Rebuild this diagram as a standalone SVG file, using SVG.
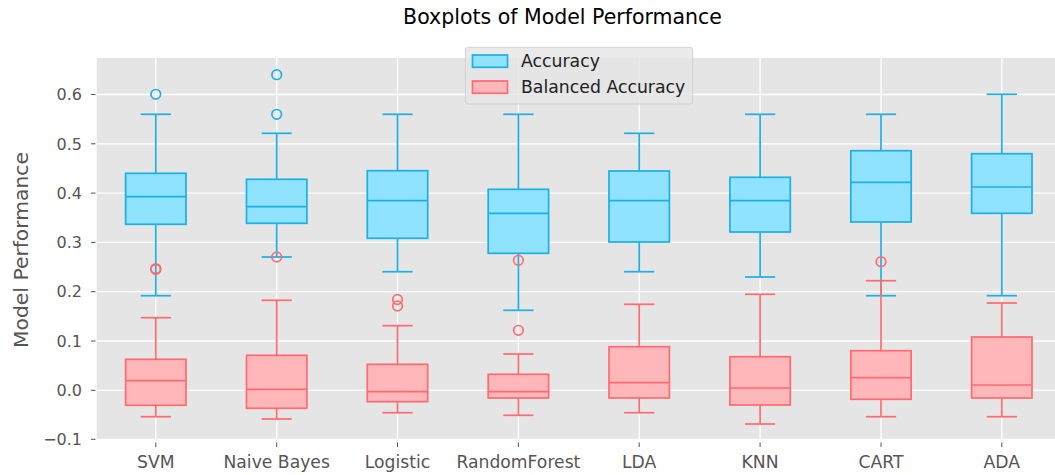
<svg xmlns="http://www.w3.org/2000/svg" width="1055" height="475" viewBox="0 0 1055 475">
<style>
text{font-family:"DejaVu Sans","Liberation Sans",sans-serif}
.tick{font-size:16px;fill:#555555}
.xt{font-size:17.2px;fill:#555555}
.tm{stroke:#555555;stroke-width:1}
.grid{stroke:#ffffff;stroke-width:1.3}
.ab{fill:#8fe3ff;stroke:#1cb0e4;stroke-width:1.7}
.al{stroke:#1cb0e4;stroke-width:1.7;fill:none}
.bb{fill:#ffb7ba;stroke:#ff6b70;stroke-width:1.7}
.bl{stroke:#ff6b70;stroke-width:1.7;fill:none}
</style>
<rect width="1055" height="475" fill="#ffffff"/>
<text x="562.5" y="24" font-size="20.5" text-anchor="middle" fill="#000000">Boxplots of Model Performance</text>
<rect x="96.7" y="58" width="958.3" height="382" fill="#e5e5e5"/>
<g id="grid">
<line class="grid" x1="96.7" x2="1055" y1="94.5" y2="94.5"/>
<line class="grid" x1="96.7" x2="1055" y1="143.8" y2="143.8"/>
<line class="grid" x1="96.7" x2="1055" y1="193.1" y2="193.1"/>
<line class="grid" x1="96.7" x2="1055" y1="242.4" y2="242.4"/>
<line class="grid" x1="96.7" x2="1055" y1="291.7" y2="291.7"/>
<line class="grid" x1="96.7" x2="1055" y1="341" y2="341"/>
<line class="grid" x1="96.7" x2="1055" y1="390.3" y2="390.3"/>
<line class="grid" x1="96.7" x2="1055" y1="439.3" y2="439.3"/>
<line class="grid" x1="155.8" x2="155.8" y1="58" y2="440"/>
<line class="grid" x1="276.7" x2="276.7" y1="58" y2="440"/>
<line class="grid" x1="397.5" x2="397.5" y1="58" y2="440"/>
<line class="grid" x1="518.4" x2="518.4" y1="58" y2="440"/>
<line class="grid" x1="639.2" x2="639.2" y1="58" y2="440"/>
<line class="grid" x1="760.1" x2="760.1" y1="58" y2="440"/>
<line class="grid" x1="881" x2="881" y1="58" y2="440"/>
<line class="grid" x1="1001.8" x2="1001.8" y1="58" y2="440"/>
</g>
<g id="axes">
<line class="tm" x1="91" x2="95.5" y1="94.5" y2="94.5"/>
<line class="tm" x1="91" x2="95.5" y1="143.8" y2="143.8"/>
<line class="tm" x1="91" x2="95.5" y1="193.1" y2="193.1"/>
<line class="tm" x1="91" x2="95.5" y1="242.4" y2="242.4"/>
<line class="tm" x1="91" x2="95.5" y1="291.7" y2="291.7"/>
<line class="tm" x1="91" x2="95.5" y1="341" y2="341"/>
<line class="tm" x1="91" x2="95.5" y1="390.3" y2="390.3"/>
<line class="tm" x1="91" x2="95.5" y1="439.3" y2="439.3"/>
<text class="tick" x="82" y="100.2" text-anchor="end">0.6</text>
<text class="tick" x="82" y="149.5" text-anchor="end">0.5</text>
<text class="tick" x="82" y="198.8" text-anchor="end">0.4</text>
<text class="tick" x="82" y="248.1" text-anchor="end">0.3</text>
<text class="tick" x="82" y="297.4" text-anchor="end">0.2</text>
<text class="tick" x="82" y="346.7" text-anchor="end">0.1</text>
<text class="tick" x="82" y="396" text-anchor="end">0.0</text>
<text class="tick" x="82" y="445" text-anchor="end">−0.1</text>
<line class="tm" x1="155.8" x2="155.8" y1="442.5" y2="447"/>
<line class="tm" x1="276.7" x2="276.7" y1="442.5" y2="447"/>
<line class="tm" x1="397.5" x2="397.5" y1="442.5" y2="447"/>
<line class="tm" x1="518.4" x2="518.4" y1="442.5" y2="447"/>
<line class="tm" x1="639.2" x2="639.2" y1="442.5" y2="447"/>
<line class="tm" x1="760.1" x2="760.1" y1="442.5" y2="447"/>
<line class="tm" x1="881" x2="881" y1="442.5" y2="447"/>
<line class="tm" x1="1001.8" x2="1001.8" y1="442.5" y2="447"/>
<text class="xt" x="155.8" y="467.5" text-anchor="middle">SVM</text>
<text class="xt" x="276.7" y="467.5" text-anchor="middle">Naive Bayes</text>
<text class="xt" x="397.5" y="467.5" text-anchor="middle">Logistic</text>
<text class="xt" x="518.4" y="467.5" text-anchor="middle">RandomForest</text>
<text class="xt" x="639.2" y="467.5" text-anchor="middle">LDA</text>
<text class="xt" x="760.1" y="467.5" text-anchor="middle">KNN</text>
<text class="xt" x="881" y="467.5" text-anchor="middle">CART</text>
<text class="xt" x="1001.8" y="467.5" text-anchor="middle">ADA</text>
<text x="28" y="250" font-size="20.3" fill="#555555" text-anchor="middle" transform="rotate(-90 28 250)">Model Performance</text>
</g>
<g id="svm">
<line class="al" x1="155.8" x2="155.8" y1="173.3" y2="114.3"/><line class="al" x1="140.7" x2="170.9" y1="114.3" y2="114.3"/>
<line class="al" x1="155.8" x2="155.8" y1="224.3" y2="295.7"/><line class="al" x1="140.7" x2="170.9" y1="295.7" y2="295.7"/>
<rect class="ab" x="125.6" y="173.3" width="60.4" height="51"/><line class="al" x1="125.6" x2="186" y1="196.7" y2="196.7"/>
<circle class="al" cx="155.8" cy="94.3" r="4.8"/>
<line class="bl" x1="155.8" x2="155.8" y1="359.3" y2="317.7"/><line class="bl" x1="140.7" x2="170.9" y1="317.7" y2="317.7"/>
<line class="bl" x1="155.8" x2="155.8" y1="405.3" y2="416.7"/><line class="bl" x1="140.7" x2="170.9" y1="416.7" y2="416.7"/>
<rect class="bb" x="125.6" y="359.3" width="60.4" height="46"/><line class="bl" x1="125.6" x2="186" y1="380.7" y2="380.7"/>
<circle class="bl" cx="155.8" cy="268.6" r="4.8"/><circle class="bl" cx="155.8" cy="269.4" r="4.8"/>
</g>
<g id="naive-bayes">
<line class="al" x1="276.7" x2="276.7" y1="179.3" y2="133.3"/><line class="al" x1="261.6" x2="291.8" y1="133.3" y2="133.3"/>
<line class="al" x1="276.7" x2="276.7" y1="223.3" y2="257"/><line class="al" x1="261.6" x2="291.8" y1="257" y2="257"/>
<rect class="ab" x="246.5" y="179.3" width="60.4" height="44"/><line class="al" x1="246.5" x2="306.9" y1="206.7" y2="206.7"/>
<circle class="al" cx="276.7" cy="74.7" r="4.8"/><circle class="al" cx="276.7" cy="114.3" r="4.8"/>
<line class="bl" x1="276.7" x2="276.7" y1="355.3" y2="300.3"/><line class="bl" x1="261.6" x2="291.8" y1="300.3" y2="300.3"/>
<line class="bl" x1="276.7" x2="276.7" y1="408.3" y2="419"/><line class="bl" x1="261.6" x2="291.8" y1="419" y2="419"/>
<rect class="bb" x="246.5" y="355.3" width="60.4" height="53"/><line class="bl" x1="246.5" x2="306.9" y1="389.3" y2="389.3"/>
<circle class="bl" cx="276.7" cy="257" r="4.8"/>
</g>
<g id="logistic">
<line class="al" x1="397.5" x2="397.5" y1="170.7" y2="114.3"/><line class="al" x1="382.4" x2="412.6" y1="114.3" y2="114.3"/>
<line class="al" x1="397.5" x2="397.5" y1="238.3" y2="271.7"/><line class="al" x1="382.4" x2="412.6" y1="271.7" y2="271.7"/>
<rect class="ab" x="367.3" y="170.7" width="60.4" height="67.6"/><line class="al" x1="367.3" x2="427.7" y1="200.7" y2="200.7"/>
<line class="bl" x1="397.5" x2="397.5" y1="364.3" y2="325.7"/><line class="bl" x1="382.4" x2="412.6" y1="325.7" y2="325.7"/>
<line class="bl" x1="397.5" x2="397.5" y1="401.7" y2="412.7"/><line class="bl" x1="382.4" x2="412.6" y1="412.7" y2="412.7"/>
<rect class="bb" x="367.3" y="364.3" width="60.4" height="37.4"/><line class="bl" x1="367.3" x2="427.7" y1="391.7" y2="391.7"/>
<circle class="bl" cx="397.5" cy="299.5" r="4.8"/><circle class="bl" cx="397.5" cy="306" r="4.8"/>
</g>
<g id="randomforest">
<line class="al" x1="518.4" x2="518.4" y1="189.3" y2="114.3"/><line class="al" x1="503.3" x2="533.5" y1="114.3" y2="114.3"/>
<line class="al" x1="518.4" x2="518.4" y1="253.3" y2="310.3"/><line class="al" x1="503.3" x2="533.5" y1="310.3" y2="310.3"/>
<rect class="ab" x="488.2" y="189.3" width="60.4" height="64"/><line class="al" x1="488.2" x2="548.6" y1="213.3" y2="213.3"/>
<line class="bl" x1="518.4" x2="518.4" y1="374.3" y2="354"/><line class="bl" x1="503.3" x2="533.5" y1="354" y2="354"/>
<line class="bl" x1="518.4" x2="518.4" y1="398" y2="415.3"/><line class="bl" x1="503.3" x2="533.5" y1="415.3" y2="415.3"/>
<rect class="bb" x="488.2" y="374.3" width="60.4" height="23.7"/><line class="bl" x1="488.2" x2="548.6" y1="391.7" y2="391.7"/>
<circle class="bl" cx="518.4" cy="260.3" r="4.8"/><circle class="bl" cx="518.4" cy="330.3" r="4.8"/>
</g>
<g id="lda">
<line class="al" x1="639.2" x2="639.2" y1="171" y2="133.3"/><line class="al" x1="624.1" x2="654.3" y1="133.3" y2="133.3"/>
<line class="al" x1="639.2" x2="639.2" y1="242" y2="271.7"/><line class="al" x1="624.1" x2="654.3" y1="271.7" y2="271.7"/>
<rect class="ab" x="609" y="171" width="60.4" height="71"/><line class="al" x1="609" x2="669.4" y1="200.7" y2="200.7"/>
<line class="bl" x1="639.2" x2="639.2" y1="346.7" y2="304.3"/><line class="bl" x1="624.1" x2="654.3" y1="304.3" y2="304.3"/>
<line class="bl" x1="639.2" x2="639.2" y1="398" y2="412.7"/><line class="bl" x1="624.1" x2="654.3" y1="412.7" y2="412.7"/>
<rect class="bb" x="609" y="346.7" width="60.4" height="51.3"/><line class="bl" x1="609" x2="669.4" y1="382.7" y2="382.7"/>
</g>
<g id="knn">
<line class="al" x1="760.1" x2="760.1" y1="177.3" y2="114.3"/><line class="al" x1="745" x2="775.2" y1="114.3" y2="114.3"/>
<line class="al" x1="760.1" x2="760.1" y1="232" y2="277"/><line class="al" x1="745" x2="775.2" y1="277" y2="277"/>
<rect class="ab" x="729.9" y="177.3" width="60.4" height="54.7"/><line class="al" x1="729.9" x2="790.3" y1="200.7" y2="200.7"/>
<line class="bl" x1="760.1" x2="760.1" y1="356.7" y2="294.3"/><line class="bl" x1="745" x2="775.2" y1="294.3" y2="294.3"/>
<line class="bl" x1="760.1" x2="760.1" y1="405" y2="424"/><line class="bl" x1="745" x2="775.2" y1="424" y2="424"/>
<rect class="bb" x="729.9" y="356.7" width="60.4" height="48.3"/><line class="bl" x1="729.9" x2="790.3" y1="388" y2="388"/>
</g>
<g id="cart">
<line class="al" x1="881" x2="881" y1="150.7" y2="114.3"/><line class="al" x1="865.9" x2="896.1" y1="114.3" y2="114.3"/>
<line class="al" x1="881" x2="881" y1="222" y2="295.7"/><line class="al" x1="865.9" x2="896.1" y1="295.7" y2="295.7"/>
<rect class="ab" x="850.8" y="150.7" width="60.4" height="71.3"/><line class="al" x1="850.8" x2="911.2" y1="182.3" y2="182.3"/>
<line class="bl" x1="881" x2="881" y1="350.7" y2="280.7"/><line class="bl" x1="865.9" x2="896.1" y1="280.7" y2="280.7"/>
<line class="bl" x1="881" x2="881" y1="399.3" y2="416.7"/><line class="bl" x1="865.9" x2="896.1" y1="416.7" y2="416.7"/>
<rect class="bb" x="850.8" y="350.7" width="60.4" height="48.6"/><line class="bl" x1="850.8" x2="911.2" y1="377.7" y2="377.7"/>
<circle class="bl" cx="881" cy="261.7" r="4.8"/>
</g>
<g id="ada">
<line class="al" x1="1001.8" x2="1001.8" y1="153.7" y2="94.3"/><line class="al" x1="986.7" x2="1016.9" y1="94.3" y2="94.3"/>
<line class="al" x1="1001.8" x2="1001.8" y1="213.3" y2="295.7"/><line class="al" x1="986.7" x2="1016.9" y1="295.7" y2="295.7"/>
<rect class="ab" x="971.6" y="153.7" width="60.4" height="59.6"/><line class="al" x1="971.6" x2="1032" y1="187" y2="187"/>
<line class="bl" x1="1001.8" x2="1001.8" y1="337" y2="303"/><line class="bl" x1="986.7" x2="1016.9" y1="303" y2="303"/>
<line class="bl" x1="1001.8" x2="1001.8" y1="398" y2="416.7"/><line class="bl" x1="986.7" x2="1016.9" y1="416.7" y2="416.7"/>
<rect class="bb" x="971.6" y="337" width="60.4" height="61"/><line class="bl" x1="971.6" x2="1032" y1="385" y2="385"/>
</g>
<g id="legend">
<rect x="465.3" y="47.3" width="227.4" height="56.7" rx="3" fill="#e5e5e5" fill-opacity="0.8" stroke="#cccccc" stroke-opacity="0.8" stroke-width="1"/>
<rect class="ab" x="472.5" y="55" width="35" height="12.3"/>
<rect class="bb" x="472.5" y="81" width="35" height="12.3"/>
<text x="521" y="67" font-size="17.3" fill="#222222">Accuracy</text>
<text x="521" y="93" font-size="17.3" fill="#222222">Balanced Accuracy</text>
</g>
</svg>
